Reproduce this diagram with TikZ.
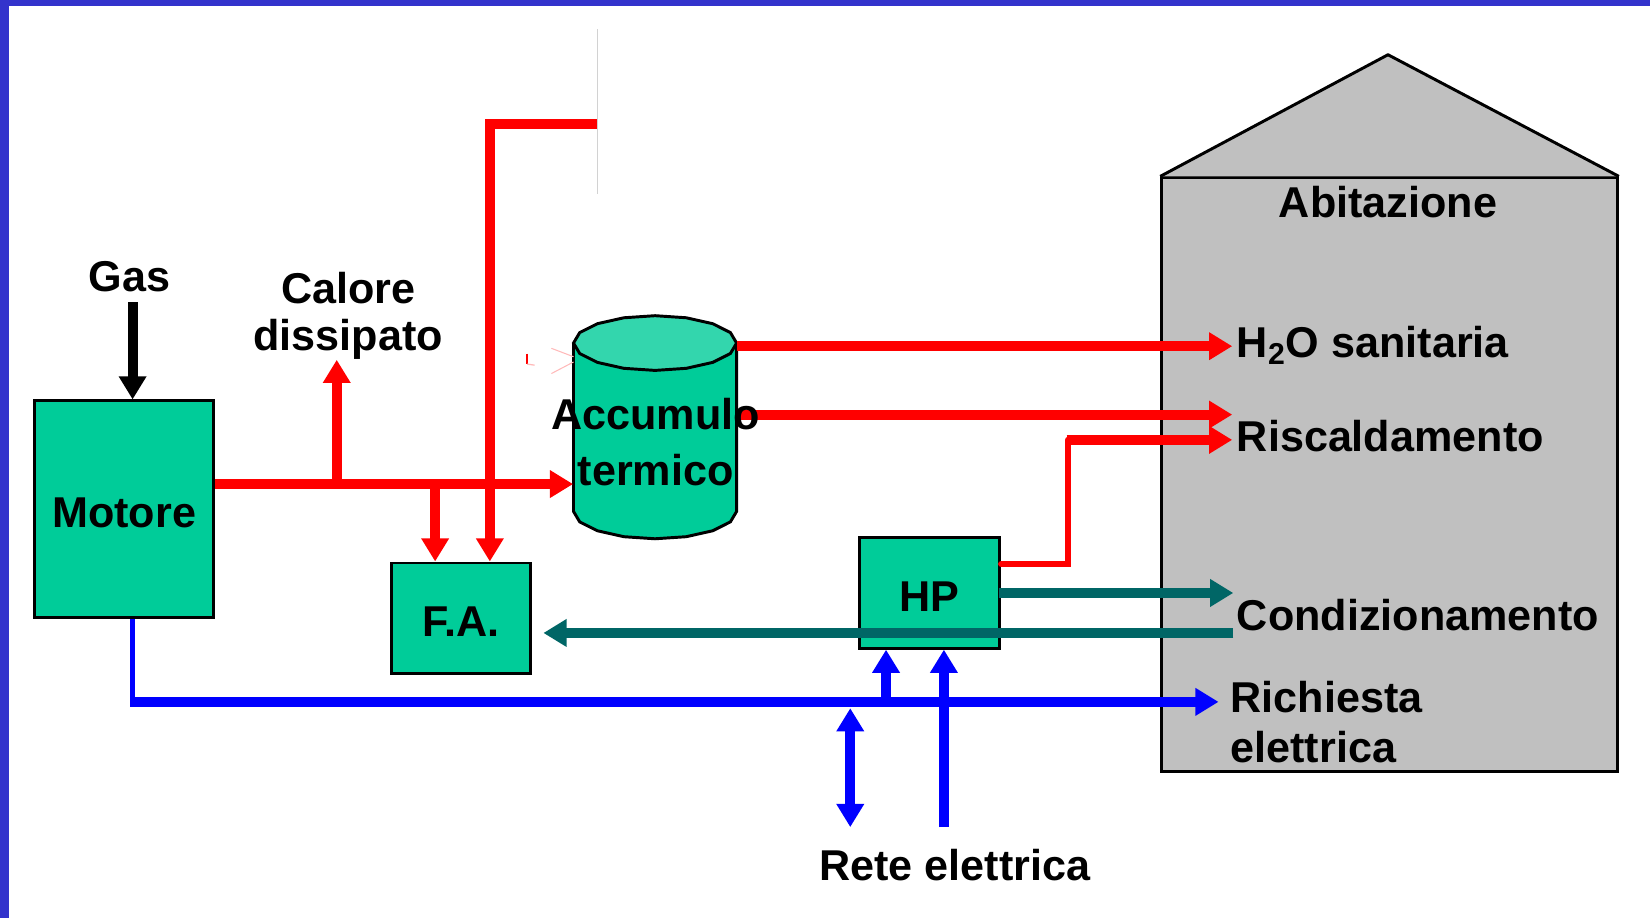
\documentclass[tikz,border=0pt]{standalone}
\usepackage{fontspec}
\setmainfont{Liberation Sans}
\usetikzlibrary{arrows.meta}
\definecolor{bordblue}{RGB}{51,51,204}
\definecolor{boxgreen}{RGB}{0,204,153}
\definecolor{topgreen}{RGB}{51,214,173}
\definecolor{darkteal}{RGB}{0,102,102}
\definecolor{housegray}{RGB}{192,192,192}
\definecolor{faintpink}{RGB}{255,185,185}
\definecolor{faintgray}{RGB}{210,210,210}
\begin{document}
\begin{tikzpicture}[x=0.5pt,y=-0.5pt, line join=miter,
  lbl/.style={font=\fontsize{20.5}{24}\selectfont\bfseries, inner sep=0pt, text=black},
  box/.style={draw=black, line width=1.4pt, fill=boxgreen, inner sep=0pt, text height=17.5pt, text depth=0pt, font=\fontsize{20.5}{24}\selectfont\bfseries},
  endtip/.style={-{Triangle[length=11pt,width=12.5pt]}},
  bothtips/.style={{Triangle[length=11pt,width=12.5pt]}-{Triangle[length=11pt,width=12.5pt]}},
  redflow/.style={draw=red, line width=4.75pt},
  redthin/.style={draw=red, line width=2.9pt},
  blueflow/.style={draw=blue, line width=4.6pt},
  bluethin/.style={draw=blue, line width=2pt},
  tealflow/.style={draw=darkteal, line width=4.75pt},
  blackflow/.style={draw=black, line width=4.75pt},
  outline/.style={draw=black, line width=1.4pt}
]
\useasboundingbox (0,0) rectangle (1568,872);
% frame
\fill[bordblue] (0,0) rectangle (1568,5.5);
\fill[bordblue] (0,0) rectangle (8.5,872);

% coordinates
\coordinate (gastop) at (126,287);
\coordinate (ymain) at (0,460);
\coordinate (jcal) at (320,460);
\coordinate (jfa) at (413.5,460);
\coordinate (tend) at (567,118);
\coordinate (tcorner) at (465.5,118);
\coordinate (gtop) at (567.5,28);
\coordinate (gbot) at (567.5,184);
\coordinate (h2ostart) at (700,329);
\coordinate (h2oend) at (1171,329);
\coordinate (risc1start) at (700,394);
\coordinate (risc1end) at (1171,394);
\coordinate (hpcorner) at (1015,536);
\coordinate (hpcorner2) at (1015,418);
\coordinate (risc2start) at (1013.5,418);
\coordinate (risc2end) at (1171,418);
\coordinate (condstart) at (949,563.5);
\coordinate (condend) at (1172,563.5);
\coordinate (condret) at (1172,601.5);
\coordinate (bcorner) at (126,667);
\coordinate (bstart) at (124,667);
\coordinate (richend) at (1158,667);
\coordinate (hpin1) at (842,667);
\coordinate (hpin2) at (897,786);
\coordinate (dtop) at (808,673);
\coordinate (dbot) at (808,786);

% house
\node[outline, fill=housegray, minimum width=216.5pt, minimum height=282pt, inner sep=0pt] (house) at (1320.5,451) {};
\coordinate (roof) at (1319,52);
\fill[housegray] (house.north west) -- (roof) -- (house.north east) -- cycle;
\draw[outline, line join=round] (house.north west) -- (roof) -- (house.north east);
\node[lbl, anchor=base] (abit) at (1319,207) {Abitazione};

% boxes
\node[box, minimum width=85pt, minimum height=103pt] (motore) at (118,484) {Motore};
\node[box, minimum width=66pt, minimum height=52.5pt] (fa) at (438,587.5) {F.A.};
\node[box, minimum width=66.5pt, minimum height=52.5pt] (hp) at (883.5,563.5) {HP};

% cylinder (accumulo)
\node[inner sep=0pt, minimum width=77.5pt, minimum height=106pt] (accum) at (622.5,406) {};
\fill[boxgreen] (545,326) -- (545,486) -- plot[samples at={180,157.5,...,0}] ({622.5+77.5*cos(\x)},{486+26*sin(\x)}) -- (700,326) -- cycle;
\draw[outline] (545,326) -- (545,486) -- plot[samples at={180,157.5,...,0}] ({622.5+77.5*cos(\x)},{486+26*sin(\x)}) -- (700,326);
\filldraw[outline, fill=topgreen] plot[samples at={0,22.5,...,337.5}] ({622.5+77.5*cos(\x)},{326+26*sin(\x)}) -- cycle;

% faint artefacts near the tank
\draw[faintpink, line width=0.5pt] (524,331) -- (545,339);
\draw[faintpink, line width=0.5pt] (524,355) -- (545,344);
\draw[red, line width=0.8pt] (501,336) -- (501,346);
\draw[faintpink, line width=0.6pt] (501,346) -- (508,347);
\draw[faintgray, line width=0.6pt] (gtop) -- (gbot);

% labels
\node[lbl, anchor=base] (gas) at (123,277) {Gas};
\node[lbl, anchor=base] (calore1) at (331,288) {Calore};
\node[lbl, anchor=base] (calore2) at (331,333) {dissipato};
\node[lbl, anchor=base west] (h2o) at (1175,340) {H\textsubscript{2}O sanitaria};
\node[lbl, anchor=base west] (risc) at (1175,429.5) {Riscaldamento};
\node[lbl, anchor=base west] (cond) at (1175,598.7) {Condizionamento};
\node[lbl, anchor=base west] (rich1) at (1169,677) {Richiesta};
\node[lbl, anchor=base west] (rich2) at (1169,725) {elettrica};
\node[lbl, anchor=base] (rete) at (907.5,837) {Rete elettrica};

% connectors
\draw[blackflow, endtip] (gastop) -- (motore.north -| gastop);
\draw[redflow, endtip] (motore.east |- ymain) -- (accum.west |- ymain);
\draw[redflow, endtip] (jcal) -- (jcal |- calore2.south);
\draw[redflow, endtip] (jfa) -- (jfa |- fa.north);
\draw[redflow, endtip] (tend) -- (tcorner) -- (tcorner |- fa.north);
\draw[redflow, endtip] (h2ostart) -- (h2oend);
\draw[redflow, endtip] (risc1start) -- (risc1end);
\draw[redthin, line cap=round] (hp.east |- hpcorner) -- (hpcorner) -- (hpcorner2);
\draw[redflow, endtip] (risc2start) -- (risc2end);
\draw[tealflow, endtip] (condstart) -- (condend);
\draw[tealflow, endtip, shorten >=5.5pt] (condret) -- (fa.east |- condret);
\draw[bluethin] (motore.south -| bcorner) -- (bcorner);
\draw[blueflow, endtip] (bstart) -- (richend);
\draw[blueflow, endtip] (hpin1) -- (hpin1 |- hp.south);
\draw[blueflow, endtip] (hpin2) -- (hpin2 |- hp.south);
\draw[blueflow, bothtips] (dtop) -- (dbot);

% tank text on top
\node[lbl, anchor=base] (acc1) at (623,408.6) {Accumulo};
\node[lbl, anchor=base] (acc2) at (623,461) {termico};
\end{tikzpicture}
\end{document}
